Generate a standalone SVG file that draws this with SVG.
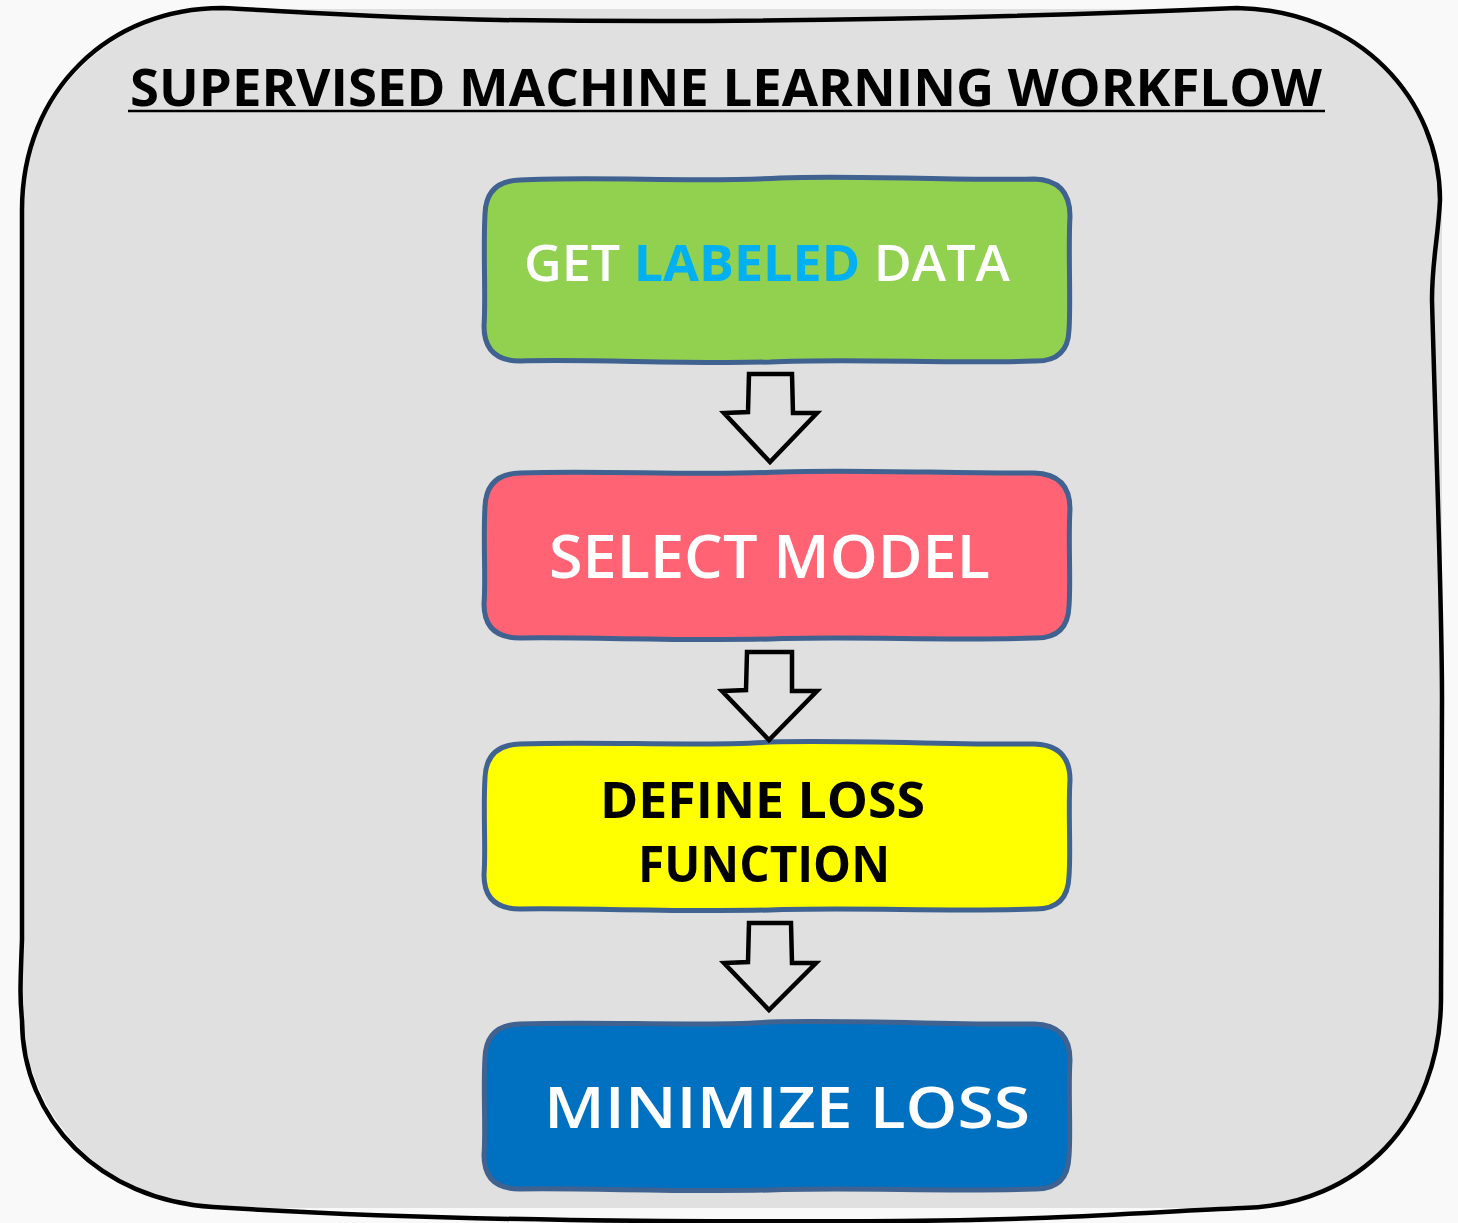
<svg xmlns="http://www.w3.org/2000/svg" width="1458" height="1223" viewBox="0 0 1458 1223">
  <style>
    .frame { fill: none; stroke: #000; stroke-width: 4.5; stroke-linejoin: round; stroke-linecap: round; }
    .box { stroke: #3f6290; stroke-width: 5; stroke-linejoin: round; }
    .arrow { fill: #e0e0e0; stroke: #000; stroke-width: 4.5; stroke-linejoin: miter; }
    .lbl { font-family: "Open Sans", "DejaVu Sans", sans-serif; }
    .title { font-family: "Open Sans", "DejaVu Sans", sans-serif; font-weight: 700; font-size: 52px; fill: #000; }
  </style>

  <!-- page background -->
  <rect x="0" y="0" width="1458" height="1223" fill="#f9f9f9"/>

  <!-- panel: flat fill with a hand-drawn outline on top -->
  <g id="panel">
    <rect x="22" y="9" width="1420" height="1199" rx="200" ry="200" fill="#e0e0e0"/>
    <path class="frame" d="M 22,210
      C 22,90 110,8 222,8
      C 300,12 380,18 500,20
      C 800,24 1050,16 1237,8
      C 1360,10 1440,100 1440,200
      C 1438,240 1432,260 1432,300
      C 1436,450 1442,600 1442,700
      L 1441,1000
      C 1440,1120 1360,1205 1243,1208
      C 1150,1212 1050,1220 900,1221
      C 700,1222 450,1222 213,1207
      C 100,1200 22,1120 22,1020
      C 20,1000 20,990 22,940
      L 22,210 Z"/>
  </g>

  <!-- title -->
  <g id="title">
    <text class="title" x="130" y="106" textLength="1192" lengthAdjust="spacingAndGlyphs">SUPERVISED MACHINE LEARNING WORKFLOW</text>
    <line x1="128" y1="111" x2="1325" y2="111" stroke="#000" stroke-width="2.5"/>
  </g>

  <!-- step 1 -->
  <g id="get-labeled-data">
    <path class="box" fill="#92d050" d="M 520,180
      C 600,176 700,183 780,178
      C 860,175 960,181 1034,179
      Q 1070,180 1070,216
      C 1068,250 1071,300 1069,330
      Q 1068,362 1034,361
      C 950,364 850,358 770,362
      C 680,364 590,359 520,361
      Q 484,361 484,326
      C 486,300 483,250 485,214
      Q 486,181 520,180 Z"/>
    <text class="lbl" x="524" y="281" font-size="50" font-weight="600" textLength="486" lengthAdjust="spacingAndGlyphs" fill="#ffffff">GET <tspan fill="#00b0f0" font-weight="700">LABELED</tspan> DATA</text>
  </g>

  <!-- step 2 -->
  <g id="select-model">
    <path class="box" fill="#ff6374" d="M 520,473
      C 600,470 700,476 780,472
      C 860,469 960,474 1034,473
      Q 1070,474 1070,509
      C 1068,540 1071,580 1069,606
      Q 1068,639 1034,638
      C 950,641 850,636 770,639
      C 680,641 590,637 520,638
      Q 484,638 484,604
      C 486,580 483,540 485,507
      Q 486,474 520,473 Z"/>
    <text class="lbl" x="549" y="578" font-size="59" font-weight="600" textLength="441" lengthAdjust="spacingAndGlyphs" fill="#ffffff">SELECT MODEL</text>
  </g>

  <!-- step 3 -->
  <g id="define-loss-function">
    <path class="box" fill="#ffff00" d="M 520,744
      C 600,741 700,747 770,742
      C 860,740 960,745 1034,744
      Q 1070,745 1070,780
      C 1068,810 1071,850 1069,876
      Q 1068,910 1034,909
      C 950,912 850,907 770,910
      C 680,912 590,908 520,909
      Q 484,909 484,875
      C 486,850 483,810 485,778
      Q 486,745 520,744 Z"/>
    <text class="lbl" x="600" y="818" font-size="50" font-weight="700" textLength="325" lengthAdjust="spacingAndGlyphs" fill="#000">DEFINE LOSS</text>
    <text class="lbl" x="638" y="882" font-size="50" font-weight="700" textLength="252" lengthAdjust="spacingAndGlyphs" fill="#000">FUNCTION</text>
  </g>

  <!-- step 4 -->
  <g id="minimize-loss">
    <path class="box" fill="#0070c0" d="M 520,1024
      C 600,1021 700,1027 770,1022
      C 860,1020 960,1025 1034,1024
      Q 1070,1025 1070,1060
      C 1068,1090 1071,1130 1069,1156
      Q 1068,1190 1034,1189
      C 950,1192 850,1187 770,1190
      C 680,1192 590,1188 520,1189
      Q 484,1189 484,1155
      C 486,1130 483,1090 485,1058
      Q 486,1025 520,1024 Z"/>
    <text class="lbl" x="544" y="1128" font-size="58" font-weight="600" textLength="486" lengthAdjust="spacingAndGlyphs" fill="#ffffff">MINIMIZE LOSS</text>
  </g>

  <!-- block arrows between steps -->
  <g id="connectors">
    <path class="arrow" d="M 749,374 L 792,374 L 793,413 L 817,413 L 770,462 L 724,413 L 748,412 Z"/>
    <path class="arrow" d="M 747,652 L 792,652 L 792,691 L 817,691 L 769,740 L 722,691 L 746,690 Z"/>
    <path class="arrow" d="M 749,923 L 791,923 L 792,963 L 816,963 L 769,1010 L 724,963 L 748,962 Z"/>
  </g>
</svg>
